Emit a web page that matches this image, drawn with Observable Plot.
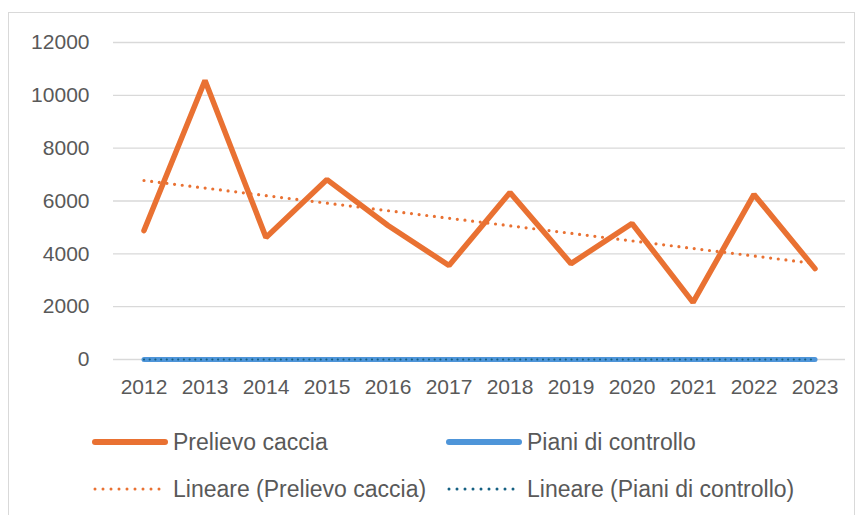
<!DOCTYPE html>
<html>
<head>
<meta charset="utf-8">
<script src="https://cdn.jsdelivr.net/npm/d3@7"></script>
<script src="https://cdn.jsdelivr.net/npm/@observablehq/plot@0.6"></script>
<style>
  html, body { margin: 0; padding: 0; background: #fff; }
  #wrap { position: relative; width: 860px; height: 515px; overflow: hidden; font-family: "Liberation Sans", Arial, sans-serif; }
  #border { position: absolute; left: 8px; top: 12px; width: 847px; height: 520px; border: 1px solid #d9d9d9; box-sizing: border-box; }
  #chart { position: absolute; left: 0; top: 0; }
  .leg { position: absolute; display: flex; align-items: center; font-size: 23px; color: #595959; white-space: nowrap; }
  .leg svg { margin-right: 4px; }
</style>
</head>
<body>
<div id="wrap">
  <div id="border"></div>
  <div id="chart"></div>
</div>
<script>
const years = [2012, 2013, 2014, 2015, 2016, 2017, 2018, 2019, 2020, 2021, 2022, 2023];
const prelievoCaccia = [4880, 10560, 4620, 6810, 5070, 3560, 6320, 3630, 5150, 2160, 6250, 3440];
const pianiControllo = [0, 0, 0, 0, 0, 0, 0, 0, 0, 0, 0, 0];
const yTicks = [0, 2000, 4000, 6000, 8000, 10000, 12000];
const seriesNames = ["Prelievo caccia", "Piani di controllo", "Lineare (Prelievo caccia)", "Lineare (Piani di controllo)"];

const ORANGE = "#E97132", BLUE = "#4E95D9", DARKBLUE = "#156082";

const caccia = years.map((y, i) => ({year: y, value: prelievoCaccia[i]}));
const piani = years.map((y, i) => ({year: y, value: pianiControllo[i]}));

const chart = Plot.plot({
  width: 860,
  height: 410,
  marginLeft: 113,
  marginRight: 15,
  marginTop: 42,
  marginBottom: 51,
  style: {fontFamily: "'Liberation Sans', Arial, sans-serif", fontSize: "21px", color: "#595959", background: "transparent"},
  x: {type: "linear", domain: [2011.5, 2023.5], ticks: years, tickFormat: d => String(d), tickSize: 0, tickPadding: 20, label: null},
  y: {domain: [0, 12000], ticks: yTicks, tickSize: 0, tickPadding: 24, label: null, tickFormat: d => String(d)},
  marks: [
    Plot.gridY(yTicks, {stroke: "#d9d9d9", strokeOpacity: 1, strokeWidth: 1.3}),
    Plot.line(piani, {x: "year", y: "value", stroke: BLUE, strokeWidth: 5, strokeLinecap: "round"}),
    Plot.linearRegressionY(piani, {x: "year", y: "value", stroke: DARKBLUE, strokeWidth: 2.2, ci: 0, strokeDasharray: "0 5.7", strokeLinecap: "round"}),
    Plot.line(caccia, {x: "year", y: "value", stroke: ORANGE, strokeWidth: 5.5, strokeLinejoin: "miter", strokeLinecap: "round"}),
    Plot.linearRegressionY(caccia, {x: "year", y: "value", stroke: ORANGE, strokeWidth: 3.2, ci: 0, strokeDasharray: "0 7.7", strokeLinecap: "round"})
  ]
});
document.getElementById("chart").appendChild(chart);

const wrap = document.getElementById("wrap");
function legendItem(name, x, y, color, width, dash) {
  const d = document.createElement("div");
  d.className = "leg";
  d.style.left = x + "px";
  d.style.top = (y - 14) + "px";
  d.style.height = "28px";
  const sw = d3.create("svg").attr("width", 78).attr("height", 10);
  sw.append("line").attr("x1", 4).attr("x2", 74).attr("y1", 5).attr("y2", 5)
    .attr("stroke", color).attr("stroke-width", width).attr("stroke-linecap", "round")
    .attr("stroke-dasharray", dash || null);
  d.appendChild(sw.node());
  const t = document.createElement("span");
  t.textContent = name;
  d.appendChild(t);
  wrap.appendChild(d);
}
legendItem(seriesNames[0], 91, 442, ORANGE, 6);
legendItem(seriesNames[1], 445, 442, BLUE, 6);
legendItem(seriesNames[2], 91, 489, ORANGE, 3, "0 8");
legendItem(seriesNames[3], 445, 489, DARKBLUE, 3, "0 8");
</script>
</body>
</html>
